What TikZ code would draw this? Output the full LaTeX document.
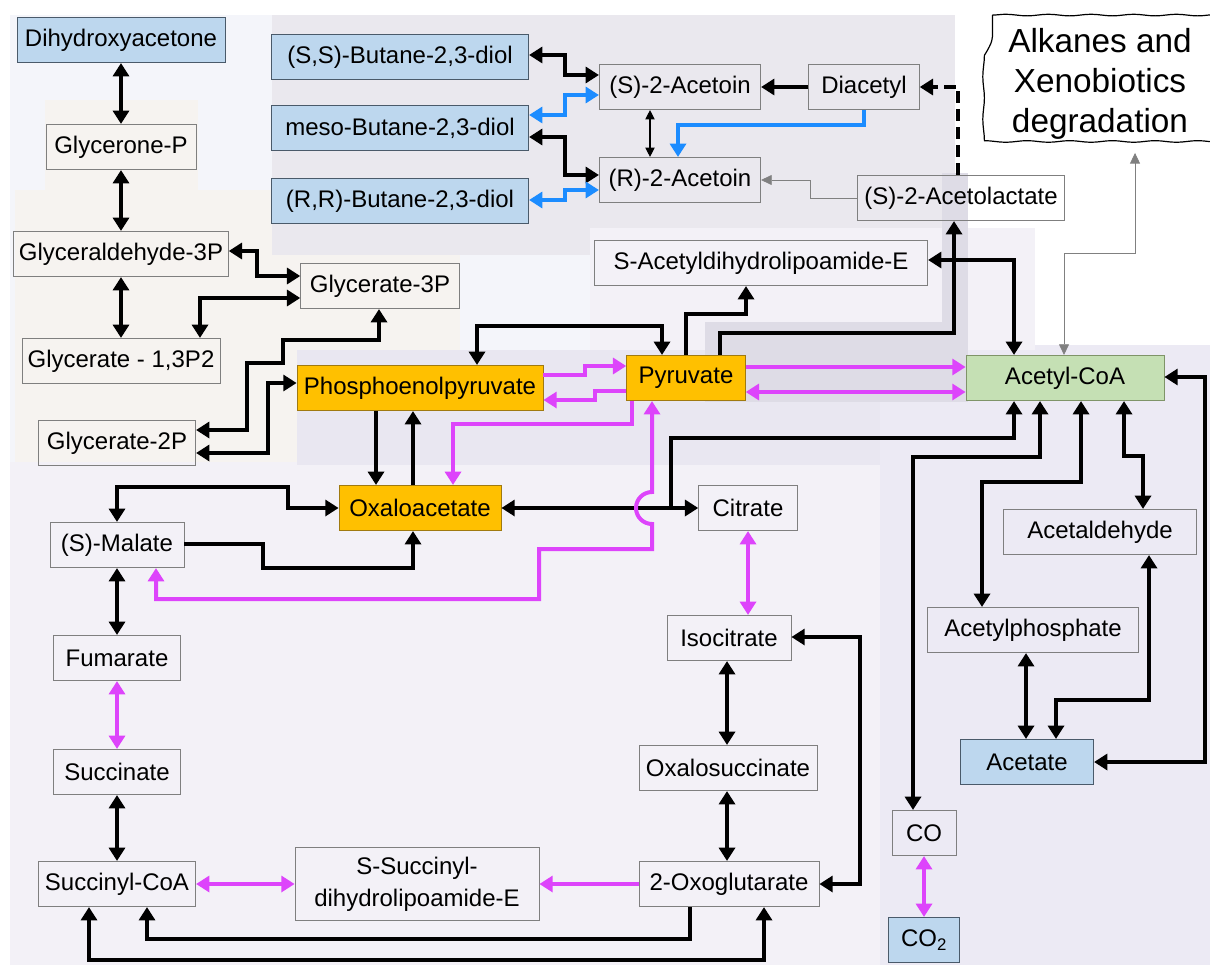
\documentclass[tikz,border=0pt]{standalone}
\usepackage{fontspec}
\setmainfont{Liberation Sans}
\usetikzlibrary{arrows.meta,decorations.pathmorphing}

\definecolor{boxgray}{HTML}{7F7F7F}
\definecolor{orfill}{HTML}{FFC000}
\definecolor{ordraw}{HTML}{A07A10}
\definecolor{blfill}{HTML}{BDD7EE}
\definecolor{bldraw}{HTML}{4A5A6A}
\definecolor{grfill}{HTML}{C5E0B4}
\definecolor{grdraw}{HTML}{7F9468}
\definecolor{mag}{HTML}{DD44FB}
\definecolor{azure}{HTML}{1C8CFF}
\definecolor{bgsky}{HTML}{F4F5FA}
\definecolor{bgwarm}{HTML}{F6F3F0}
\definecolor{bggrey}{HTML}{EAE8EE}
\definecolor{bglight}{HTML}{F3F1F7}
\definecolor{bgdark}{HTML}{DEDCE6}
\definecolor{bgband}{HTML}{E9E7F1}
\definecolor{bgright}{HTML}{ECEAF4}

\tikzset{
  met/.style={draw=boxgray, line width=0.6pt, minimum height=34pt, inner sep=2pt,
    font=\fontsize{18}{21}\selectfont},
  key/.style={met, fill=orfill, draw=ordraw},
  ext/.style={met, fill=blfill, draw=bldraw},
  hub/.style={met, fill=grfill, draw=grdraw},
  wavy/.style={minimum width=161pt, minimum height=103pt, align=center, inner sep=0pt,
    font=\fontsize{25}{30}\selectfont},
  wavyline/.style={line width=0.9pt, decorate,
    decoration={snake, amplitude=0.6pt, segment length=32pt}},
  rx/.style={line width=3pt, black},
  mg/.style={line width=3pt, mag},
  bl/.style={line width=2.6pt, azure},
  fine/.style={line width=0.8pt, black, >={Triangle[length=7pt,width=7pt]}},
  faint/.style={line width=0.6pt, gray, >={Triangle[length=8pt,width=7.5pt]}},
}

\begin{document}
\begin{tikzpicture}[x=0.75pt,y=-0.75pt,>={Triangle[length=10pt,width=12pt]}]
  \useasboundingbox (0,0) rectangle (1210,970);
  % Backgrounds
  \fill[bgsky] (10,15) rectangle (600,470);
  \fill[bgwarm] (45,100) rectangle (198,190);
  \fill[bgwarm] (15,190) rectangle (460,470);
  \fill[bglight] (10,462) rectangle (880,965);
  \fill[bgright] (880,345) rectangle (1210,965);
  \fill[bgband] (297,350) rectangle (880,465);
  \fill[bggrey] (272,15) rectangle (955,255);
  \fill[bglight] (590,228) rectangle (1035,350);
  \fill[bgdark] (942,173) rectangle (968,322);
  \fill[bgdark] (705,322) rectangle (968,402);

  % Glycolysis
  \node[ext, minimum width=156pt] (dha) at (121,40) {Dihydroxyacetone};
  \node[met, minimum width=112.5pt] (gnp) at (121,147) {Glycerone-P};
  \node[met, minimum width=161pt] (gald) at (121,254) {Glyceraldehyde-3P};
  \node[met, minimum width=119pt] (g3p) at (380,286) {Glycerate-3P};
  \node[met, minimum width=148.5pt] (g13) at (121,361) {Glycerate - 1,3P2};
  \node[met, minimum width=118pt] (g2p) at (117,443) {Glycerate-2P};
  \node[key, minimum width=184.5pt] (pep) at (420,388) {Phosphoenolpyruvate};
  \node[key, minimum width=89pt] (pyr) at (686,378) {Pyruvate};

  % Butanediol
  \node[ext, minimum width=193pt] (ssb) at (400,57) {(S,S)-Butane-2,3-diol};
  \node[ext, minimum width=193pt] (msb) at (400,128) {meso-Butane-2,3-diol};
  \node[ext, minimum width=193pt] (rrb) at (400,201) {(R,R)-Butane-2,3-diol};
  \node[met, minimum width=121pt] (sact) at (680,87) {(S)-2-Acetoin};
  \node[met, minimum width=83pt] (diac) at (864,87) {Diacetyl};
  \node[met, minimum width=121pt] (ract) at (680,180) {(R)-2-Acetoin};
  \node[met, minimum width=155pt] (alac) at (961,198) {(S)-2-Acetolactate};
  \node[wavy] (alk) at (1100,84) {Alkanes and\\Xenobiotics\\degradation};
  \draw[wavyline] (alk.north west) -- (alk.north east) -- (alk.south east)
    -- (alk.south west) -- cycle;

  % Acetyl-CoA
  \node[met, minimum width=250pt] (sadl) at (761,263) {S-Acetyldihydrolipoamide-E};
  \node[hub, minimum width=148.5pt] (acoa) at (1065,378) {Acetyl-CoA};
  \node[met, minimum width=145pt] (aald) at (1100,532) {Acetaldehyde};
  \node[met, minimum width=158pt] (acp) at (1033,630) {Acetylphosphate};
  \node[ext, minimum width=100pt] (acet) at (1027,762) {Acetate};
  \node[met, minimum width=48pt] (co) at (924,833) {CO};
  \node[ext, minimum width=53pt] (co2) at (924,940) {CO\textsubscript{2}};

  % TCA cycle
  \node[key, minimum width=121.5pt] (oaa) at (420,508) {Oxaloacetate};
  \node[met, minimum width=74pt] (cit) at (748,508) {Citrate};
  \node[met, minimum width=100.5pt] (mal) at (117,545) {(S)-Malate};
  \node[met, minimum width=95pt] (fum) at (117,658) {Fumarate};
  \node[met, minimum width=95pt] (suc) at (117,772) {Succinate};
  \node[met, minimum width=118pt] (scoa) at (117,884) {Succinyl-CoA};
  \node[met, minimum width=183pt, minimum height=55pt, align=center, font=\fontsize{18}{24}\selectfont]
    (ssdl) at (417,884) {S-Succinyl-\\dihydrolipoamide-E};
  \node[met, minimum width=93pt] (icit) at (729,638) {Isocitrate};
  \node[met, minimum width=133.5pt] (osuc) at (728,768) {Oxalosuccinate};
  \node[met, minimum width=135pt] (ogl) at (729,884) {2-Oxoglutarate};
  \coordinate (join) at (671,508);

  % Glycolysis arrows
  \draw[rx,<->] (dha) -- (gnp);
  \draw[rx,<->] (gnp) -- (gald);
  \draw[rx,<->] (gald) -- (g13);
  \draw[rx,<->] (gald.east |- 0,251) -| (257,276) -- (g3p.west |- 0,276);
  \draw[rx,<->] (g3p.west |- 0,298) -| (g13.north -| 200,0);
  \draw[rx,<->] (g3p.south -| 379,0) |- (283,340) |- (247,363) |- (g2p.east |- 0,430);
  \draw[rx,<->] (g2p.east |- 0,453) -| (268,383) -- (pep.west |- 0,383);
  \draw[rx,<->] (pep.north -| 477,0) |- (662,326) -- (pyr.north -| 662,0);
  \draw[mg,->] (pep.east |- 0,375) -| (585,366) -- (pyr.west |- 0,366);
  \draw[mg,->] (pyr.west |- 0,391) -| (595,400) -- (pep.east |- 0,400);
  \draw[mg,->] (pyr.south -| 632,0) |- (453,424) -- (oaa.north -| 453,0);
  \draw[rx,->] (pep.south -| 376,0) -- (oaa.north -| 376,0);
  \draw[rx,->] (oaa.north -| 413,0) -- (pep.south -| 413,0);

  % Butanediol arrows
  \draw[rx,<->] (ssb.east |- 0,55) -| (565,75) -- (sact.west |- 0,75);
  \draw[bl,<->] (msb.east |- 0,115) -| (565,95) -- (sact.west |- 0,95);
  \draw[rx,<->] (msb.east |- 0,137) -| (565,175) -- (ract.west |- 0,175);
  \draw[bl,<->] (rrb.east |- 0,200) -| (565,190) -- (ract.west |- 0,190);
  \draw[fine,<->] (sact.south -| 650,0) -- (ract.north -| 650,0);
  \draw[rx,->] (diac) -- (sact);
  \draw[bl,->] (diac.south) |- (678,125) -- (ract.north -| 678,0);
  \draw[rx,->,dash pattern=on 9pt off 4.5pt] (alac.north -| 958,0) |- (diac.east);
  \draw[faint,->] (alac.west) -| (810,180) -- (ract.east);
  \draw[faint,<->] (alk.south -| 1135,0) |- (1064,253) -- (acoa.north -| 1064,0);

  % Pyruvate to Acetyl-CoA
  \draw[rx,->] (pyr.north -| 686,0) |- (746,314) -- (sadl.south -| 746,0);
  \draw[rx,->] (pyr.north -| 720,0) |- (954,333) -- (alac.south -| 954,0);
  \draw[rx,<->] (sadl.east |- 0,260) -| (acoa.north -| 1014,0);
  \draw[mg,->] (pyr.east |- 0,367) -- (acoa.west |- 0,367);
  \draw[mg,<->] (pyr.east |- 0,392) -- (acoa.west |- 0,392);
  \draw[rx,<->] (acoa.south -| 1040,0) |- (913,457) -- (co.north -| 913,0);
  \draw[rx,<->] (acoa.south -| 1081,0) |- (982,482) -- (acp.north -| 982,0);
  \draw[rx,<->] (acoa.south -| 1124,0) |- (1143,456) -- (aald.north -| 1143,0);
  \draw[rx,<->] (acp.south -| 1026,0) -- (acet.north -| 1026,0);
  \draw[rx,<->] (aald.south -| 1149,0) |- (1056,700) -- (acet.north -| 1056,0);
  \draw[rx,<->] (acet.east) -| (1205,377) -- (acoa.east |- 0,377);
  \draw[mg,<->] (co) -- (co2);

  % TCA arrows
  \draw[rx,<->] (oaa) -- (cit);
  \draw[rx,->] (join) |- (1014,438) -- (acoa.south -| 1014,0);
  \draw[mg,<->] (pyr.south -| 652,0) -- (652,492)
    arc[start angle=90, end angle=270, radius=12pt] -- (652,549) -| (539,599) -| (mal.south -| 156,0);
  \draw[rx,<->] (oaa.west) -| (288,487) -| (mal.north);
  \draw[rx,->] (mal.east |- 0,544) -| (263,568) -| (oaa.south -| 413,0);
  \draw[rx,<->] (mal) -- (fum);
  \draw[mg,<->] (fum) -- (suc);
  \draw[rx,<->] (suc) -- (scoa);
  \draw[mg,<->] (scoa) -- (ssdl);
  \draw[mg,->] (ogl) -- (ssdl);
  \draw[rx,->] (ogl.south -| 690,0) |- (147,939) -- (scoa.south -| 147,0);
  \draw[rx,<->] (scoa.south -| 89,0) |- (764,960) -- (ogl.south -| 764,0);
  \draw[mg,<->] (cit.south) -- (icit.north -| cit.south);
  \draw[rx,<->] (icit.south -| 727,0) -- (osuc.north -| 727,0);
  \draw[rx,<->] (osuc.south -| 727,0) -- (ogl.north -| 727,0);
  \draw[rx,<->] (icit.east |- 0,637) -| (860,884) -- (ogl.east);
\end{tikzpicture}
\end{document}
